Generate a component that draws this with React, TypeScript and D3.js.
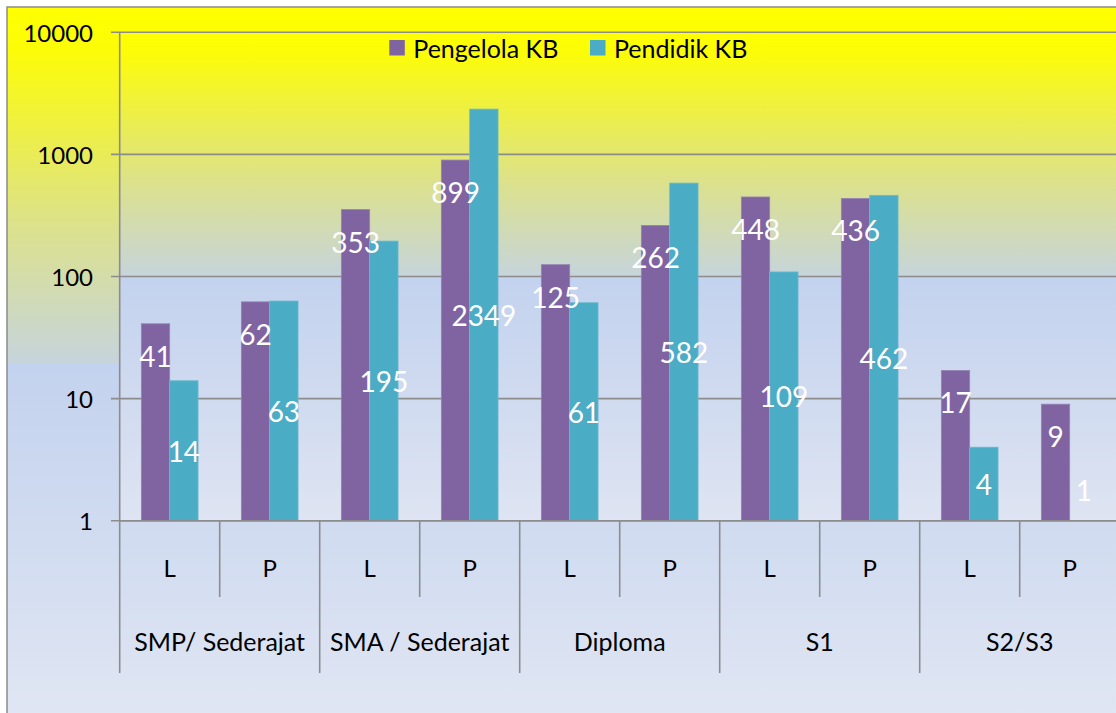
import React from 'react';
import * as d3 from 'd3';

const groups = ['SMP/ Sederajat', 'SMA / Sederajat', 'Diploma', 'S1', 'S2/S3'];
const genders = ['L', 'P'];
const seriesNames = ['Pengelola KB', 'Pendidik KB'];
const pengelola = [41, 62, 353, 899, 125, 262, 448, 436, 17, 9];
const pendidik = [14, 63, 195, 2349, 61, 582, 109, 462, 4, 1];
const yTicks = [1, 10, 100, 1000, 10000];
const colors = ['#8064A2', '#4BACC6'];

const W = 1116;
const H = 713;
const PL = 119.7;
const PR = 1119.7;
const PT = 32.3;
const PB = 520.7;
const FONT = 'Lato, "Open Sans", sans-serif';
const GRID = '#8C8C8C';

export default function App() {
  const keys: string[] = [];
  groups.forEach((g, gi) => genders.forEach((s) => keys.push(`${gi}-${s}`)));
  const x = d3.scaleBand<string>().domain(keys).range([PL, PR]).padding(0);
  const step = x.bandwidth();
  const inner = d3.scaleBand<string>().domain(seriesNames).range([step * 0.2165, step * 0.7835]).padding(0);
  const y = d3.scaleLog().domain([1, 10000]).range([PB, PT]);
  const series = [pengelola, pendidik];

  return (
    <svg width={W} height={H} style={{ position: 'absolute', left: 0, top: 0, background: '#fff' }} fontFamily={FONT}>
      <defs>
        <linearGradient id="outerG" x1="0" y1="0" x2="0" y2="1">
          <stop offset="0" stopColor="#FFFF00" />
          <stop offset="0.06" stopColor="#FCFC08" />
          <stop offset="0.3" stopColor="#DDE289" />
          <stop offset="0.5" stopColor="#C6D4DC" />
          <stop offset="0.5" stopColor="#C3D2EE" />
          <stop offset="1" stopColor="#E0E6F3" />
        </linearGradient>
        <linearGradient id="plotG" x1="0" y1="0" x2="0" y2="1">
          <stop offset="0" stopColor="#FFFF00" />
          <stop offset="0.04" stopColor="#FCFC08" />
          <stop offset="0.3" stopColor="#DDE289" />
          <stop offset="0.5" stopColor="#C6D4DC" />
          <stop offset="0.5" stopColor="#C3D2EE" />
          <stop offset="1" stopColor="#DEE4F2" />
        </linearGradient>
      </defs>
      <rect x={7} y={7} width={W + 20} height={712} fill="url(#outerG)" stroke={GRID} strokeWidth={1.5} />
      <rect x={PL} y={PT} width={PR - PL} height={PB - PT} fill="url(#plotG)" />

      {/* gridlines and y ticks */}
      {yTicks.map((t) => (
        <g key={t}>
          <line x1={111} x2={PR} y1={y(t)} y2={y(t)} stroke={GRID} strokeWidth={1.6} />
          <text x={93} y={y(t)} textAnchor="end" dominantBaseline="central" fontSize={24} fill="#000">
            {t}
          </text>
        </g>
      ))}
      <line x1={PL} x2={PL} y1={PT} y2={PB} stroke={GRID} strokeWidth={1.6} />

      {/* bars */}
      {keys.map((k, i) => (
        <g key={k}>
          {series.map((vals, si) => {
            const v = vals[i];
            const bx = (x(k) as number) + (inner(seriesNames[si]) as number);
            const by = y(v);
            return (
              <rect
                key={si}
                x={bx}
                y={by}
                width={inner.bandwidth()}
                height={y(1) - by}
                fill={colors[si]}
                stroke={si === 0 ? '#9483B4' : '#6BBBD0'}
                strokeWidth={0.8}
              />
            );
          })}
        </g>
      ))}

      {/* data labels */}
      {keys.map((k, i) => (
        <g key={`lab-${k}`}>
          {series.map((vals, si) => {
            const v = vals[i];
            const cx = (x(k) as number) + (inner(seriesNames[si]) as number) + inner.bandwidth() / 2;
            const ly = si === 0 ? y(v) + 32 : Math.min((y(v) + y(1)) / 2, y(1) - 31);
            return (
              <text
                key={si}
                x={cx}
                y={ly}
                textAnchor="middle"
                dominantBaseline="central"
                fontSize={28}
                fill="#fff"
              >
                {v}
              </text>
            );
          })}
        </g>
      ))}

      {/* x axis line */}
      <line x1={PL} x2={PR} y1={PB} y2={PB} stroke={GRID} strokeWidth={1.6} />

      {/* category ticks */}
      {keys.map((k, i) => (
        <line
          key={`t-${k}`}
          x1={x(k) as number}
          x2={x(k) as number}
          y1={PB}
          y2={i % 2 === 0 ? 673 : 597}
          stroke={GRID}
          strokeWidth={1.6}
        />
      ))}
      <line x1={PR} x2={PR} y1={PB} y2={673} stroke={GRID} strokeWidth={1.6} />

      {/* L/P labels */}
      {keys.map((k, i) => (
        <text
          key={`s-${k}`}
          x={(x(k) as number) + step / 2}
          y={567}
          textAnchor="middle"
          dominantBaseline="central"
          fontSize={24}
          fill="#000"
        >
          {genders[i % 2]}
        </text>
      ))}
      {/* group labels */}
      {groups.map((g, gi) => (
        <text
          key={g}
          x={(x(`${gi}-L`) as number) + step}
          y={641}
          textAnchor="middle"
          dominantBaseline="central"
          fontSize={25}
          fill="#000"
        >
          {g}
        </text>
      ))}

      {/* legend */}
      {seriesNames.map((s, si) => {
        const lx = [389.3, 590][si];
        return (
          <g key={s}>
            <rect x={lx} y={40} width={15.5} height={15.5} fill={colors[si]} />
            <text x={lx + 24} y={48} dominantBaseline="central" fontSize={25} fill="#000">
              {s}
            </text>
          </g>
        );
      })}
    </svg>
  );
}
